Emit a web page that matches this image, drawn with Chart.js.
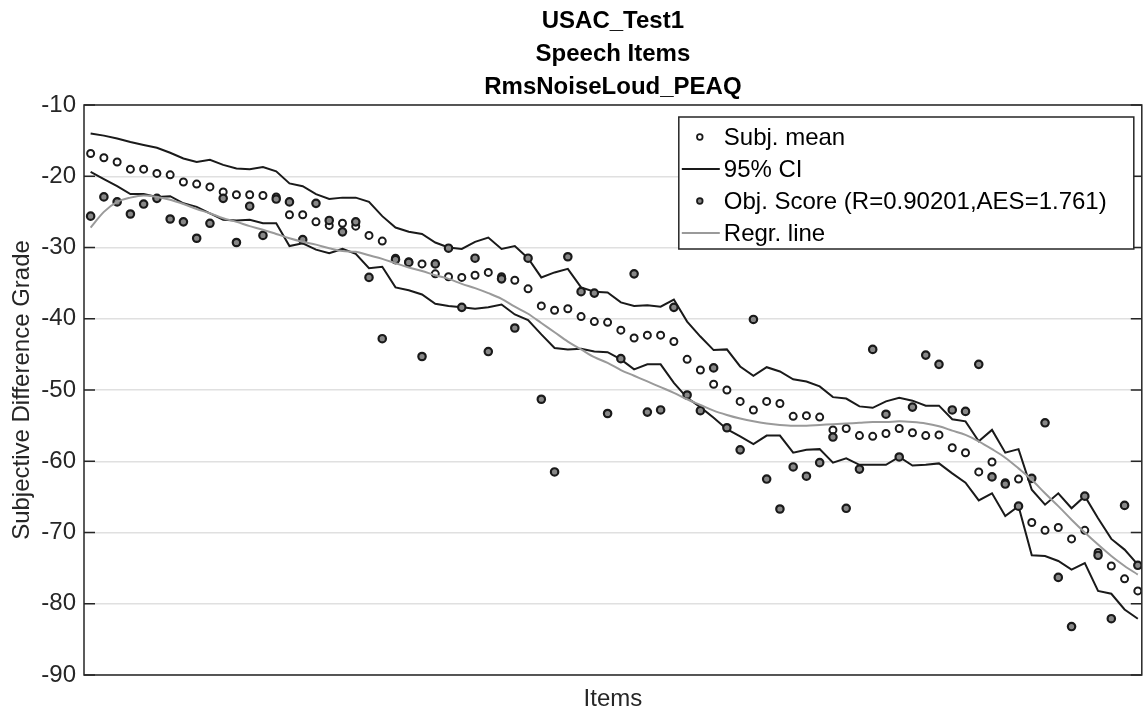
<!DOCTYPE html>
<html>
<head>
<meta charset="utf-8">
<script src="https://cdn.jsdelivr.net/npm/chart.js@4.4.0/dist/chart.umd.min.js"></script>
<style>
  html, body { margin: 0; padding: 0; background: #fff; }
  #wrap { width: 1148px; height: 717px; }
</style>
</head>
<body>
<div id="wrap"><canvas id="chart" width="1148" height="717"></canvas></div>
<script>
// values, one per item (1..80)
const titleLines = ['USAC_Test1', 'Speech Items', 'RmsNoiseLoud_PEAQ'];
const yTicks = [-90, -80, -70, -60, -50, -40, -30, -20, -10];

const subjMean = [
  -16.8, -17.4, -18.0, -19.0, -19.0, -19.6, -19.8, -20.8, -21.1, -21.5,
  -22.2, -22.6, -22.6, -22.7, -22.9, -25.4, -25.4, -26.4, -26.9, -26.6,
  -27.0, -28.3, -29.1, -31.5, -32.0, -32.3, -33.7, -34.1, -34.2, -33.9,
  -33.5, -34.1, -34.6, -35.8, -38.2, -38.8, -38.6, -39.7, -40.4, -40.5,
  -41.6, -42.7, -42.3, -42.3, -43.2, -45.7, -47.2, -49.2, -50.0, -51.6,
  -52.8, -51.6, -51.9, -53.7, -53.6, -53.8, -55.6, -55.4, -56.4, -56.5,
  -56.1, -55.4, -56.0, -56.4, -56.3, -58.1, -58.8, -61.5, -60.1, -63.0,
  -62.5, -68.6, -69.7, -69.3, -70.9, -69.7, -72.8, -74.7, -76.5, -78.2
];
const ciUpper = [
  -14.0, -14.3, -14.7, -15.2, -15.6, -16.0, -16.7, -17.5, -18.0, -17.7,
  -18.4, -18.9, -19.0, -18.7, -19.3, -21.0, -21.4, -22.5, -23.2, -23.0,
  -23.0, -23.6, -25.6, -27.2, -27.8, -28.1, -29.3, -30.0, -30.2, -29.2,
  -28.6, -30.2, -29.8, -31.5, -34.2, -33.5, -33.0, -35.6, -36.2, -36.3,
  -37.7, -38.2, -38.1, -38.3, -37.3, -40.4, -42.5, -44.4, -44.3, -46.7,
  -48.0, -46.8, -47.4, -48.5, -48.8, -49.5, -51.0, -51.2, -52.3, -52.5,
  -51.6, -51.1, -51.5, -52.2, -52.2, -54.1, -54.4, -57.2, -55.6, -58.8,
  -58.3, -64.0, -66.1, -64.5, -66.6, -64.9, -68.0, -70.9, -72.4, -74.5
];
const ciLower = [
  -19.4, -20.4, -21.4, -22.5, -22.5, -22.9, -22.8, -23.8, -24.3, -25.2,
  -26.1, -26.2, -26.1, -26.6, -26.6, -29.8, -29.4, -30.3, -30.8, -30.2,
  -30.9, -32.9, -32.7, -35.6, -36.0, -36.6, -37.9, -38.2, -38.4, -38.6,
  -38.4, -38.0, -39.4, -40.2, -42.2, -44.1, -44.3, -44.2, -44.6, -44.7,
  -45.7, -47.1, -46.4, -46.4, -49.0, -51.1, -52.4, -53.9, -55.5, -56.5,
  -57.6, -56.4, -56.4, -58.8, -58.4, -58.3, -60.2, -59.6, -60.5, -60.5,
  -60.5, -59.4, -60.6, -60.5, -60.3, -61.7, -63.0, -65.5, -64.5, -67.7,
  -66.3, -73.2, -73.3, -74.0, -75.2, -74.3, -78.2, -78.6, -80.8, -82.1
];
const objScore = [
  -25.6, -22.9, -23.6, -25.3, -23.9, -23.1, -26.0, -26.4, -28.7, -26.6,
  -23.1, -29.3, -24.2, -28.3, -23.2, -23.6, -28.9, -23.8, -26.2, -27.8,
  -26.4, -34.2, -42.8, -31.7, -32.1, -45.3, -32.3, -30.1, -38.4, -31.5,
  -44.6, -34.4, -41.3, -31.5, -51.3, -61.5, -31.3, -36.2, -36.4, -53.3,
  -45.6, -33.7, -53.1, -52.8, -38.4, -50.7, -52.9, -46.9, -55.3, -58.4,
  -40.1, -62.5, -66.7, -60.8, -62.1, -60.2, -56.6, -66.6, -61.1, -44.3,
  -53.4, -59.4, -52.4, -45.1, -46.4, -52.8, -53.0, -46.4, -62.2, -63.2,
  -66.3, -62.4, -54.6, -76.3, -83.2, -64.9, -73.2, -82.1, -66.2, -74.6
];
const regrLine = [
  -27.2, -25.0, -23.6, -23.0, -22.7, -22.9, -23.3, -23.9, -24.6, -25.2,
  -25.9, -26.4, -27.0, -27.5, -28.1, -28.7, -29.2, -29.6, -30.1, -30.5,
  -30.6, -31.1, -31.6, -32.2, -32.8, -33.3, -33.9, -34.4, -35.1, -35.7,
  -36.4, -37.2, -38.3, -39.3, -40.6, -41.9, -43.2, -44.3, -45.4, -46.2,
  -47.2, -48.0, -48.8, -49.6, -50.4, -51.3, -52.1, -52.9, -53.5, -54.0,
  -54.4, -54.7, -54.9, -55.0, -55.0, -54.9, -54.8, -54.7, -54.6, -54.5,
  -54.5, -54.4, -54.5, -54.7, -55.1, -55.7, -56.3, -57.2, -58.3, -59.5,
  -61.0, -62.6, -64.5, -66.3, -68.2, -70.0, -71.7, -73.3, -74.7, -75.9
];

const FONT = 'Liberation Sans, Arial, Helvetica, sans-serif';
const AXIS = '#262626';
const pts = arr => arr.map((v, i) => ({ x: i + 1, y: v }));

// title, box, inward ticks and legend drawn the way the MATLAB figure has them
const figPlugin = {
  id: 'fig',
  afterDatasetsDraw(chart) {
    const { ctx, chartArea: a, scales } = chart;
    ctx.save();
    ctx.strokeStyle = AXIS;
    ctx.lineWidth = 1.5;
    yTicks.forEach(t => {
      const y = scales.y.getPixelForValue(t);
      ctx.beginPath();
      ctx.moveTo(a.left, y); ctx.lineTo(a.left + 11, y);
      ctx.moveTo(a.right, y); ctx.lineTo(a.right - 11, y);
      ctx.stroke();
    });
    ctx.strokeRect(a.left, a.top, a.right - a.left, a.bottom - a.top);
    ctx.restore();
  },
  afterDraw(chart) {
    const { ctx, chartArea: a } = chart;
    ctx.save();
    // title
    ctx.fillStyle = '#000';
    ctx.font = 'bold 24px ' + FONT;
    ctx.textAlign = 'center';
    ctx.textBaseline = 'middle';
    const cx = (a.left + a.right) / 2;
    titleLines.forEach((t, i) => ctx.fillText(t, cx, 21 + i * 33));

    // legend
    const lw = 455, lh = 132;
    const lx = a.right - 8 - lw, ly = a.top + 12;
    ctx.fillStyle = '#fff';
    ctx.fillRect(lx, ly, lw, lh);
    ctx.strokeStyle = AXIS;
    ctx.lineWidth = 1.5;
    ctx.strokeRect(lx, ly, lw, lh);
    ctx.font = '24px ' + FONT;
    ctx.textAlign = 'left';
    const rows = chart.data.datasets.filter(d => d.label);
    rows.forEach((d, i) => {
      const y = ly + 20 + i * 32;
      if (d.showLine === false) {
        ctx.beginPath();
        ctx.arc(lx + 21, y, 2.8, 0, Math.PI * 2);
        ctx.fillStyle = d.pointBackgroundColor;
        ctx.fill();
        ctx.lineWidth = 1.8;
        ctx.strokeStyle = d.pointBorderColor;
        ctx.stroke();
      } else {
        ctx.beginPath();
        ctx.moveTo(lx + 3, y); ctx.lineTo(lx + 41, y);
        ctx.lineWidth = d.borderWidth;
        ctx.strokeStyle = d.borderColor;
        ctx.stroke();
      }
      ctx.fillStyle = '#000';
      ctx.fillText(d.label, lx + 45, y + 1);
    });
    ctx.restore();
  }
};

new Chart(document.getElementById('chart'), {
  type: 'scatter',
  data: {
    datasets: [
      {
        label: 'Subj. mean', data: pts(subjMean), showLine: false, order: 5,
        pointRadius: 3.5, pointBorderWidth: 2,
        pointBackgroundColor: '#ffffff', pointBorderColor: '#1a1a1a'
      },
      {
        label: '95% CI', data: pts(ciUpper), showLine: true, order: 4,
        borderColor: '#1a1a1a', borderWidth: 2, pointRadius: 0, tension: 0
      },
      {
        label: '', data: pts(ciLower), showLine: true, order: 4,
        borderColor: '#1a1a1a', borderWidth: 2, pointRadius: 0, tension: 0
      },
      {
        label: 'Obj. Score (R=0.90201,AES=1.761)', data: pts(objScore), showLine: false, order: 3,
        pointRadius: 3.7, pointBorderWidth: 2.2,
        pointBackgroundColor: '#888888', pointBorderColor: '#1a1a1a'
      },
      {
        label: 'Regr. line', data: pts(regrLine), showLine: true, order: 2,
        borderColor: '#9a9a9a', borderWidth: 2, pointRadius: 0,
        cubicInterpolationMode: 'monotone'
      }
    ]
  },
  options: {
    responsive: false,
    animation: false,
    layout: { padding: { top: 105, right: 3, left: 0, bottom: 0 } },
    plugins: { legend: { display: false }, tooltip: { enabled: false }, title: { display: false } },
    scales: {
      x: {
        type: 'linear', min: 0.5, max: 80.3,
        grid: { display: false }, border: { display: false },
        ticks: { display: false },
        title: { display: true, text: 'Items', color: AXIS, font: { family: FONT, size: 24 }, padding: { top: 0, bottom: 3 } },
        afterFit: s => { s.height = 42; }
      },
      y: {
        min: -90, max: -10,
        grid: { color: '#e0e0e0', lineWidth: 1.5, drawTicks: false },
        border: { display: false },
        ticks: { stepSize: 10, color: AXIS, padding: 8, font: { family: FONT, size: 24 } },
        title: { display: true, text: 'Subjective Difference Grade', color: AXIS, font: { family: FONT, size: 24 }, padding: { top: 8, bottom: 0 } },
        afterFit: s => { s.width = 84; }
      }
    }
  },
  plugins: [figPlugin]
});
</script>
</body>
</html>
